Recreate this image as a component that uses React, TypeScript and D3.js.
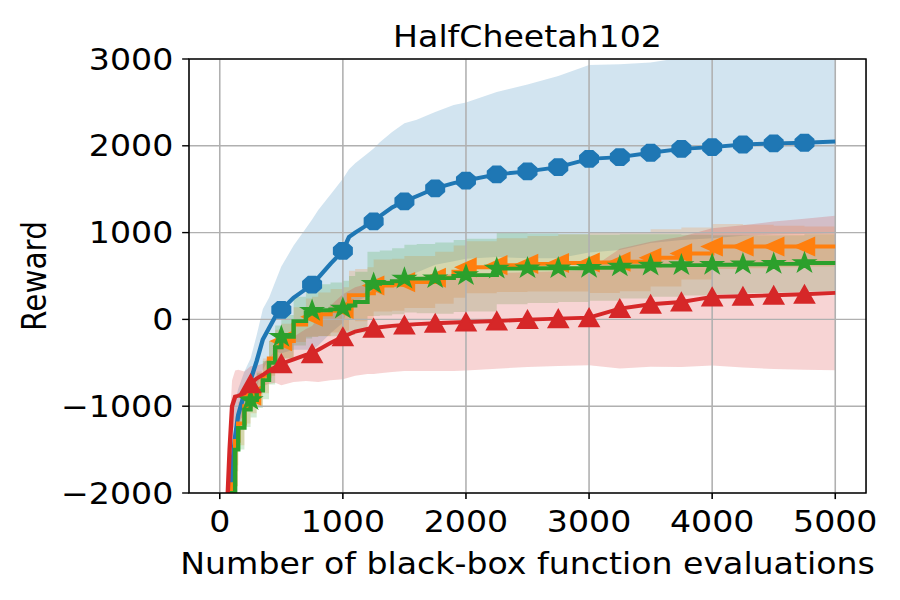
import * as d3 from "d3";

// evaluation counts where the curves are sampled
const evals = [
  0, 50, 80, 100, 125, 150, 200, 250, 300, 350, 400, 450, 500, 600, 700, 750,
  800, 900, 1000, 1050, 1100, 1200, 1250, 1300, 1400, 1500, 1600, 1750, 1900,
  2000, 2250, 2500, 2750, 3000, 3250, 3500, 3750, 4000, 4250, 4500, 4750, 5000,
];

const blueMean = [
  -4000, -3000, -2200, -1700, -1350, -1100, -850, -700, -480, -230, -100, 30,
  110, 250, 350, 400, 480, 640, 790, 950, 1000, 1090, 1130, 1190, 1290, 1360,
  1420, 1510, 1570, 1600, 1670, 1705, 1755, 1850, 1870, 1920, 1965, 1985, 2015,
  2028, 2035, 2050,
];
const blueStd = [
  800, 700, 600, 500, 400, 300, 250, 250, 300, 350, 350, 400, 500, 600, 700,
  750, 780, 800, 830, 780, 800, 820, 840, 850, 870, 900, 880, 880, 900, 900,
  950, 1000, 1050, 1080, 1070, 1040, 1050, 1050, 1050, 1050, 1050, 1060,
];

const orangeMean = [
  -4000, -3200, -2500, -1900, -1400, -1200, -1000, -880, -800, -650, -450,
  -320, -250, -60, 20, 30, 60, 100, 120, 280, 280, 300, 390, 390, 400, 430,
  430, 480, 550, 600, 625, 640, 650, 655, 665, 710, 760, 840, 840, 840, 840,
  840,
];
const orangeStd = [
  300, 300, 300, 300, 280, 250, 200, 200, 200, 200, 200, 200, 200, 200, 220,
  230, 250, 250, 250, 280, 300, 300, 300, 300, 300, 300, 300, 300, 300, 300,
  310, 320, 330, 350, 340, 330, 300, 260, 250, 240, 230, 230,
];

const greenMean = [
  -4000, -3200, -2600, -2000, -1500, -1250, -1040, -930, -820, -700, -500,
  -320, -200, -20, 80, 100, 105, 115, 125, 160, 200, 410, 410, 420, 440, 470,
  470, 475, 500, 510, 585, 590, 590, 595, 610, 620, 625, 630, 635, 640, 650,
  650,
];
const greenStd = [
  300, 300, 300, 300, 250, 250, 200, 200, 200, 220, 250, 250, 250, 280, 300,
  300, 300, 310, 320, 340, 350, 370, 370, 375, 380, 390, 400, 410, 415, 420,
  410, 400, 390, 380, 370, 360, 350, 340, 335, 330, 330, 330,
];

const redMean = [
  -3500, -2500, -1500, -1000, -890, -880, -850, -740, -680, -640, -590, -550,
  -510, -460, -410, -395, -350, -270, -200, -170, -140, -110, -100, -90, -75,
  -65, -55, -45, -35, -30, -18, -2, 9, 21, 125, 174, 201, 259, 266, 278, 290,
  305,
];
const redStd = [
  300, 300, 300, 300, 300, 300, 250, 200, 150, 130, 150, 180, 250, 260, 300,
  320, 370, 430, 490, 500, 510, 520, 530, 530, 530, 530, 540, 550, 560, 560,
  550, 545, 545, 550, 690, 720, 750, 790, 820, 850, 870, 890,
];

const xTicks = [0, 1000, 2000, 3000, 4000, 5000];
const yTicks = [-2000, -1000, 0, 1000, 2000, 3000];

const series = [
  { name: "blue", color: "#1f77b4", mean: blueMean, std: blueStd, marker: "octagon", step: false, firstMark: 500 },
  { name: "orange", color: "#ff7f0e", mean: orangeMean, std: orangeStd, marker: "triLeft", step: true, firstMark: 250 },
  { name: "green", color: "#2ca02c", mean: greenMean, std: greenStd, marker: "star", step: true, firstMark: 250 },
  { name: "red", color: "#d62728", mean: redMean, std: redStd, marker: "triUp", step: false, firstMark: 250 },
];

// drawn in a 800-wide box and stretched to 900, like the source figure
const left = 168;
const right = 769.8;
const top = 59;
const bottom = 493;
const font = "DejaVu Sans";
const fs = 29.5;

function markerPath(kind: string, r: number) {
  if (kind === "octagon") {
    const pts = d3.range(8).map((k) => {
      const a = Math.PI / 8 + (k * Math.PI) / 4;
      return [r * Math.cos(a), r * Math.sin(a)];
    });
    return "M" + pts.map((p) => p.join(",")).join("L") + "Z";
  }
  if (kind === "triUp") return `M0,${-r}L${-r},${r}L${r},${r}Z`;
  if (kind === "triLeft") return `M${-r},0L${r},${-r}L${r},${r}Z`;
  // star
  const pts = d3.range(10).map((k) => {
    const rr = k % 2 === 0 ? r : r * 0.381966;
    const a = -Math.PI / 2 + (k * Math.PI) / 5;
    return [rr * Math.cos(a), rr * Math.sin(a)];
  });
  return "M" + pts.map((p) => p.join(",")).join("L") + "Z";
}

export default function App() {
  const x = d3.scaleLinear().domain([-250, 5250]).range([left, right]);
  const y = d3.scaleLinear().domain([-2000, 3000]).range([bottom, top]);

  return (
    <svg
      width={900}
      height={600}
      viewBox="0 0 800 600"
      preserveAspectRatio="none"
      style={{ position: "absolute", left: 0, top: 0, background: "white" }}
      fontFamily={font}
    >
      <defs>
        <clipPath id="plot">
          <rect x={left} y={top} width={right - left} height={bottom - top} />
        </clipPath>
      </defs>

      <g clipPath="url(#plot)">
        {series.map((s) => {
          const area = d3
            .area<number>()
            .x((d, i) => x(evals[i]))
            .y0((d, i) => y(s.mean[i] - s.std[i]))
            .y1((d, i) => y(s.mean[i] + s.std[i]))
            .curve(s.step ? d3.curveStepAfter : d3.curveLinear);
          return (
            <path key={s.name} d={area(s.mean) || ""} fill={s.color} fillOpacity={0.2} />
          );
        })}
      </g>

      {xTicks.map((t) => (
        <line key={"gx" + t} x1={x(t)} x2={x(t)} y1={top} y2={bottom} stroke="#b0b0b0" strokeWidth={1.4} />
      ))}
      {yTicks.map((t) => (
        <line key={"gy" + t} x1={left} x2={right} y1={y(t)} y2={y(t)} stroke="#b0b0b0" strokeWidth={1.4} />
      ))}

      <g clipPath="url(#plot)">
        {series.map((s) => {
          const line = d3
            .line<number>()
            .x((d, i) => x(evals[i]))
            .y((d) => y(d))
            .curve(s.step ? d3.curveStepAfter : d3.curveLinear);
          const marks = evals
            .map((e, i) => ({ e, v: s.mean[i] }))
            .filter((d) => d.e >= s.firstMark && d.e <= 4750 && d.e % 250 === 0);
          const mp = markerPath(s.marker, s.marker === "star" ? 9.5 : 8.7);
          return (
            <g key={s.name}>
              <path d={line(s.mean) || ""} fill="none" stroke={s.color} strokeWidth={3.9} />
              {marks.map((d) => (
                <path
                  key={d.e}
                  d={mp}
                  transform={`translate(${x(d.e)},${y(d.v)})`}
                  fill={s.color}
                  stroke={s.color}
                  strokeWidth={1.7}
                />
              ))}
            </g>
          );
        })}
      </g>

      <rect x={left} y={top} width={right - left} height={bottom - top} fill="none" stroke="black" strokeWidth={1.4} />

      {xTicks.map((t) => (
        <g key={"tx" + t}>
          <line x1={x(t)} x2={x(t)} y1={bottom} y2={bottom + 6.1} stroke="black" strokeWidth={1.4} />
          <text x={x(t)} y={532} fontSize={fs} textAnchor="middle">
            {t}
          </text>
        </g>
      ))}
      {yTicks.map((t) => (
        <g key={"ty" + t}>
          <line x1={left - 6.1} x2={left} y1={y(t)} y2={y(t)} stroke="black" strokeWidth={1.4} />
          <text x={154} y={y(t)} dy="0.36em" fontSize={fs} textAnchor="end">
            {t < 0 ? "\u2212" + Math.abs(t) : t}
          </text>
        </g>
      ))}

      <text x={(left + right) / 2} y={47} fontSize={fs} textAnchor="middle">
        HalfCheetah102
      </text>
      <text x={(left + right) / 2} y={574} fontSize={fs} textAnchor="middle">
        Number of black-box function evaluations
      </text>
      <text
        transform={`translate(41,${(top + bottom) / 2}) rotate(-90)`}
        fontSize={fs}
        textAnchor="middle"
      >
        Reward
      </text>
    </svg>
  );
}
